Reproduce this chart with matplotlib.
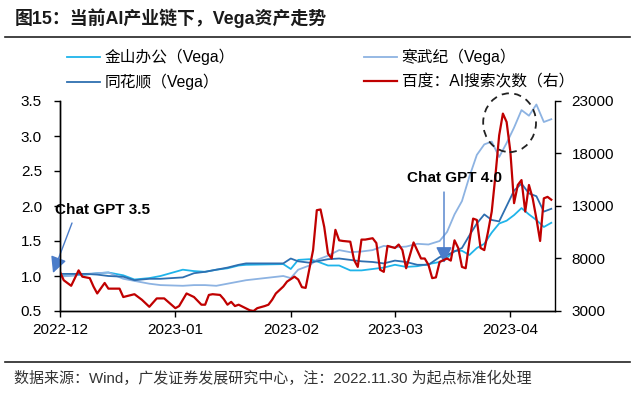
import matplotlib
matplotlib.use("Agg")
import matplotlib.pyplot as plt
import matplotlib.dates as mdates
from matplotlib.patches import Ellipse
import pandas as pd

plt.rcParams['font.family'] = ['Liberation Sans', 'Noto Sans CJK SC']
plt.rcParams['axes.unicode_minus'] = False

# ---------------- data ----------------
vega_dates = ["2022-12-01", "2022-12-05", "2022-12-08", "2022-12-11", "2022-12-14", "2022-12-18",
              "2022-12-21", "2022-12-25", "2022-12-28", "2023-01-03", "2023-01-06", "2023-01-09",
              "2023-01-12", "2023-01-15", "2023-01-18", "2023-01-20", "2023-01-30", "2023-02-01",
              "2023-02-03", "2023-02-06", "2023-02-08", "2023-02-11", "2023-02-14", "2023-02-17",
              "2023-02-20", "2023-02-23", "2023-02-26", "2023-03-01", "2023-03-04", "2023-03-07",
              "2023-03-10", "2023-03-13", "2023-03-15", "2023-03-17", "2023-03-19", "2023-03-21",
              "2023-03-23", "2023-03-25", "2023-03-27", "2023-03-29", "2023-03-31", "2023-04-02",
              "2023-04-04", "2023-04-06", "2023-04-08", "2023-04-10", "2023-04-12"]

kingsoft = [1.00, 1.01, 1.02, 1.04, 1.05, 1.01, 0.95, 0.97, 1.00, 1.09,
            1.07, 1.06, 1.09, 1.11, 1.15, 1.16, 1.17, 1.10, 1.23, 1.24,
            1.21, 1.15, 1.15, 1.08, 1.08, 1.10, 1.12, 1.16, 1.13, 1.14,
            1.17, 1.20, 1.26, 1.36, 1.36, 1.30, 1.40, 1.46, 1.62, 1.75,
            1.79, 1.87, 1.97, 1.88, 1.80, 1.70, 1.76]

cambricon = [0.99, 1.01, 1.03, 1.04, 1.05, 0.96, 0.93, 0.89, 0.87, 0.86,
             0.87, 0.87, 0.86, 0.89, 0.92, 0.94, 1.00, 0.97, 1.09, 1.15,
             1.23, 1.29, 1.37, 1.34, 1.35, 1.37, 1.43, 1.41, 1.42, 1.46,
             1.45, 1.50, 1.63, 1.88, 2.07, 2.42, 2.73, 2.88, 2.92, 2.70,
             2.90, 3.12, 3.37, 3.29, 3.45, 3.20, 3.24]

hithink = [1.03, 1.03, 1.03, 1.02, 1.00, 0.99, 0.94, 0.96, 0.96, 0.98,
           1.04, 1.06, 1.09, 1.12, 1.16, 1.18, 1.18, 1.25, 1.21, 1.19,
           1.21, 1.24, 1.25, 1.23, 1.21, 1.20, 1.18, 1.22, 1.20, 1.16,
           1.16, 1.27, 1.30, 1.35, 1.40, 1.58, 1.75, 1.88, 1.80, 1.78,
           2.00, 2.22, 2.32, 2.18, 2.14, 1.92, 1.96]

baidu_dates = ["2022-12-01", "2022-12-02", "2022-12-04", "2022-12-06", "2022-12-07", "2022-12-09",
               "2022-12-10", "2022-12-11", "2022-12-13", "2022-12-14", "2022-12-17", "2022-12-18",
               "2022-12-21", "2022-12-23", "2022-12-25", "2022-12-27", "2022-12-29", "2023-01-01",
               "2023-01-02", "2023-01-04", "2023-01-06", "2023-01-08", "2023-01-09", "2023-01-10",
               "2023-01-11", "2023-01-13", "2023-01-14", "2023-01-15", "2023-01-16", "2023-01-17",
               "2023-01-18", "2023-01-21", "2023-01-22", "2023-01-23", "2023-01-25", "2023-01-26",
               "2023-01-27", "2023-01-28", "2023-01-30", "2023-01-31", "2023-02-02", "2023-02-03",
               "2023-02-04", "2023-02-05", "2023-02-07", "2023-02-08", "2023-02-09", "2023-02-10",
               "2023-02-11", "2023-02-12", "2023-02-13", "2023-02-14", "2023-02-15", "2023-02-17",
               "2023-02-18", "2023-02-19", "2023-02-20", "2023-02-21", "2023-02-23", "2023-02-24",
               "2023-02-25", "2023-02-26", "2023-02-27", "2023-03-01", "2023-03-02", "2023-03-03",
               "2023-03-04", "2023-03-06", "2023-03-08", "2023-03-09", "2023-03-10", "2023-03-11",
               "2023-03-12", "2023-03-13", "2023-03-15", "2023-03-16", "2023-03-17", "2023-03-18",
               "2023-03-19", "2023-03-20", "2023-03-21", "2023-03-22", "2023-03-23", "2023-03-24",
               "2023-03-25", "2023-03-26", "2023-03-27", "2023-03-28", "2023-03-29", "2023-03-30",
               "2023-03-31", "2023-04-01", "2023-04-02", "2023-04-03", "2023-04-04", "2023-04-05",
               "2023-04-06", "2023-04-07", "2023-04-08", "2023-04-09", "2023-04-10", "2023-04-11",
               "2023-04-12"]

baidu = [6730, 5930, 5400, 6870, 6270, 6130, 5330, 4670, 5670, 5130,
         5130, 4330, 4600, 4070, 3400, 4200, 4200, 3270, 3470, 4670,
         4330, 3600, 3600, 4530, 4600, 4530, 4130, 3600, 3870, 3470,
         3600, 3070, 3000, 3270, 3470, 3600, 4070, 4670, 5330, 5800,
         6270, 6000, 5270, 5200, 8800, 12600, 12670, 11000, 8470, 8000,
         10730, 9730, 9670, 9600, 7870, 7200, 9800, 9800, 9930, 9470,
         6930, 6730, 9200, 9000, 9330, 8800, 7070, 9530, 8000, 8000,
         7400, 6130, 6200, 7670, 8000, 7800, 9730, 9000, 7200, 7070,
         9600, 11800, 11670, 9000, 8800, 10530, 12470, 15930, 19730, 21800,
         21000, 18200, 13270, 15000, 15470, 12470, 15000, 13730, 11800, 9670,
         13730, 13870, 13600]

labels = ["金山办公（Vega）", "寒武纪（Vega）", "同花顺（Vega）", "百度：AI搜索次数（右）"]
colors = ["#1FB4EA", "#8DB3E2", "#2E6FB0", "#C00000"]

left_ticks = [0.5, 1.0, 1.5, 2.0, 2.5, 3.0, 3.5]
right_ticks = [3000, 8000, 13000, 18000, 23000]

title = "图15：当前AI产业链下，Vega资产走势"
source = "数据来源：Wind，广发证券发展研究中心，注：2022.11.30 为起点标准化处理"

# ---------------- figure ----------------
W, H = 637, 396
fig = plt.figure(figsize=(W / 100, H / 100), dpi=100)
L, R, T, B = 60, 555, 101, 311
ax = fig.add_axes([L / W, 1 - B / H, (R - L) / W, (B - T) / H])
ax2 = ax.twinx()

vd = pd.to_datetime(vega_dates)
bd = pd.to_datetime(baidu_dates)

l1, = ax.plot(vd, kingsoft, color=colors[0], lw=1.3)
l2, = ax.plot(vd, cambricon, color=colors[1], lw=1.3)
l3, = ax.plot(vd, hithink, color=colors[2], lw=1.3)
l4, = ax2.plot(bd, baidu, color=colors[3], lw=1.6)

ax.set_xlim(pd.Timestamp("2022-12-01"), pd.Timestamp("2023-04-13"))
ax.set_ylim(0.5, 3.5)
ax2.set_ylim(3000, 23000)
ax.set_yticks(left_ticks)
ax.set_yticklabels([f"{v:.1f}" for v in left_ticks])
ax2.set_yticks(right_ticks)
ax2.set_yticklabels([str(v) for v in right_ticks])
ax.xaxis.set_major_locator(mdates.MonthLocator())
ax.xaxis.set_major_formatter(mdates.DateFormatter("%Y-%m"))

for a in (ax, ax2):
    a.spines['top'].set_visible(False)
    for s in a.spines.values():
        s.set_linewidth(1.0)
        s.set_color('black')
ax.spines['right'].set_visible(False)
ax.tick_params(axis='y', direction='out', length=4, width=1, labelsize=11, pad=9)
ax.tick_params(axis='x', direction='out', length=4, width=1, labelsize=11, pad=5)
ax2.tick_params(axis='y', direction='out', length=4, width=1, labelsize=11, pad=8)

# annotations (arrows positioned in figure pixels, origin bottom-left)
arrow_col = "#4A7CC9"
arrow_props = dict(arrowstyle="-|>,head_length=0.7,head_width=0.35", color=arrow_col, lw=1.0,
                   mutation_scale=14, shrinkA=0, shrinkB=0)
ax.annotate("", xy=(53, H - 273), xycoords='figure pixels',
            xytext=(72, H - 223), textcoords='figure pixels',
            arrowprops=arrow_props, annotation_clip=False)
fig.text(55 / W, 1 - 210 / H, "Chat GPT 3.5", fontsize=11, fontweight='bold',
         va='center', ha='left')

ax.annotate("", xy=(444, H - 263), xycoords='figure pixels',
            xytext=(444, H - 192), textcoords='figure pixels',
            arrowprops=arrow_props, annotation_clip=False)
fig.text(407 / W, 1 - 178 / H, "Chat GPT 4.0", fontsize=11, fontweight='bold',
         va='center', ha='left')

base = pd.Timestamp("2022-12-01")
centre_x = mdates.date2num(base + pd.Timedelta(days=120.8))
ax2.add_patch(Ellipse((centre_x, 3000 + (3.19 - 0.5) * 20000 / 3), width=14.2,
                      height=0.84 * 20000 / 3, fill=False, ls=(0, (4, 3)), lw=1.3,
                      edgecolor='#222222', clip_on=False, zorder=5))

# legend (two columns placed separately)
leg_kw = dict(loc='upper left', frameon=False, fontsize=11.3, handlelength=2.1,
              handletextpad=0.3, labelspacing=0.55, borderpad=0, borderaxespad=0)
fig.legend([l1, l3], [labels[0], labels[2]], bbox_to_anchor=(67 / W, 1 - 49 / H), **leg_kw)
fig.legend([l2, l4], [labels[1], labels[3]], bbox_to_anchor=(364 / W, 1 - 49 / H), **leg_kw)

# title and rules
fig.text(15 / W, 1 - 18 / H, title, fontsize=12.9, fontweight='bold', va='center', ha='left',
         color='#1a1a1a')
fig.add_artist(plt.Line2D([5 / W, 630 / W], [1 - 37 / H, 1 - 37 / H], color='#222222', lw=1.2))
fig.add_artist(plt.Line2D([5 / W, 630 / W], [1 - 362 / H, 1 - 362 / H], color='#222222', lw=1.2))
fig.text(14 / W, 1 - 378 / H, source, fontsize=10.8, va='center', ha='left', color='#333333')

fig.savefig("out.png", dpi=100)
